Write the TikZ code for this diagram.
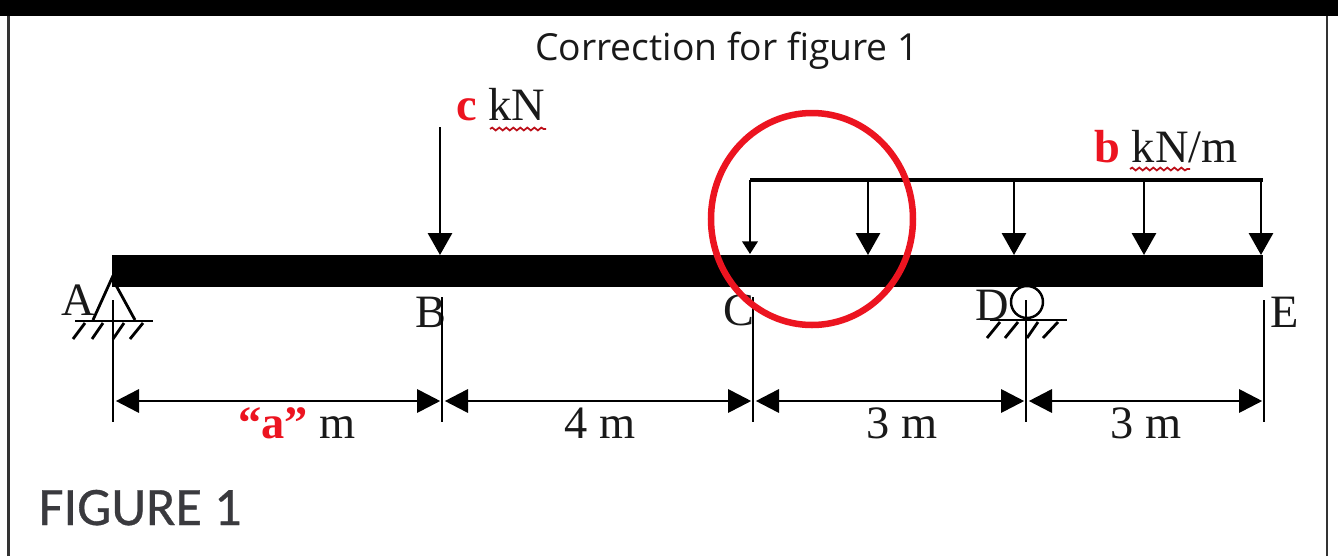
\documentclass[tikz,border=0pt]{standalone}
\usepackage{fontspec}
\setmainfont{Liberation Serif}
\newfontfamily\slidefont{Open Sans}
\newfontfamily\figfont[AutoFakeBold=0.6]{Carlito}
\usetikzlibrary{arrows.meta,decorations.pathmorphing}
\definecolor{markred}{RGB}{236,20,32}
\definecolor{figgray}{RGB}{58,58,62}
\tikzset{
  beamlabel/.style={anchor=base,inner sep=0pt,text=black!90,font=\fontsize{13.2}{13.2}\selectfont},
  dimline/.style={{Triangle[length=6.6pt,width=6.6pt]}-{Triangle[length=6.6pt,width=6.6pt]},line width=.8pt,shorten >=.5pt,shorten <=.8pt},
  extline/.style={line width=.8pt},
  loadarrow/.style={-{Triangle[length=6.2pt,width=6.8pt]},line width=.75pt},
  groundline/.style={line width=.8pt},
  squiggle/.style={draw=markred!80!black,line width=.5pt,decorate,decoration={snake,amplitude=.4pt,segment length=2pt}}
}
\begin{document}
\begin{tikzpicture}
  \useasboundingbox (0,0) rectangle (13.38,5.56);
  \fill[white] (0,0) rectangle (13.38,5.56);
  \fill[black] (0,5.40) rectangle (13.38,5.56);
  \draw[line width=.6pt,black!80] (0.085,0) -- (0.085,5.40);
  \draw[line width=.6pt,black!80] (13.27,0) -- (13.27,5.40);

  \node[anchor=base,inner sep=0pt,font=\slidefont\fontsize{10.6}{10.6}\selectfont,text=black!90] (title) at (7.27,4.96) {Correction for figure 1};
  \node[anchor=base west,inner sep=0pt,font=\figfont\bfseries\fontsize{15.4}{15.4}\selectfont,text=figgray] (figlabel) at (0.38,0.31) {FIGURE 1};

  % beam
  \fill[black] (1.12,2.69) rectangle (12.63,3.01);

  % support at A
  \coordinate (apexA) at (1.12,2.78);
  \coordinate (baseAl) at (0.93,2.36);
  \coordinate (baseAr) at (1.35,2.36);
  \draw[groundline] (baseAl) -- (apexA) -- (baseAr);
  \draw[groundline] (0.75,2.35) -- (1.53,2.35);
  \draw[groundline] (0.73,2.17) -- ++(0.12,0.16);
  \draw[groundline] (0.92,2.17) -- ++(0.11,0.16);
  \draw[groundline] (1.13,2.17) -- ++(0.11,0.16);
  \draw[groundline] (1.30,2.17) -- ++(0.13,0.16);

  % support at D
  \node[draw,circle,line width=.7pt,minimum size=.32cm,inner sep=0pt] (rollerD) at (10.27,2.54) {};
  \draw[groundline] (9.90,2.36) -- (10.67,2.36);
  \draw[groundline] (9.87,2.18) -- ++(0.13,0.16);
  \draw[groundline] (10.05,2.18) -- ++(0.13,0.16);
  \draw[groundline] (10.27,2.18) -- ++(0.11,0.16);
  \draw[groundline] (10.43,2.18) -- ++(0.15,0.16);

  % letters
  \node[beamlabel] (labA) at (0.78,2.41) {A};
  \node[beamlabel] (labB) at (4.31,2.29) {B};
  \node[beamlabel] (labC) at (7.39,2.31) {C};
  \node[beamlabel] (labD) at (9.92,2.36) {D};
  \node[beamlabel] (labE) at (12.85,2.29) {E};

  % extension lines
  \coordinate (extAt) at (1.13,2.56);  \coordinate (extAb) at (1.13,1.34);
  \coordinate (extBt) at (4.42,2.59);  \coordinate (extBb) at (4.42,1.34);
  \coordinate (extCt) at (7.53,2.59);  \coordinate (extCb) at (7.53,1.34);
  \coordinate (extDt) at (10.26,2.56); \coordinate (extDb) at (10.26,1.34);
  \coordinate (extEt) at (12.64,2.56); \coordinate (extEb) at (12.64,1.34);
  \draw[extline] (extAt) -- (extAb);
  \draw[extline] (extBt) -- (extBb);
  \draw[extline] (extCt) -- (extCb);
  \draw[extline] (extDt) -- (extDb);
  \draw[extline] (extEt) -- (extEb);

  % dimensions
  \coordinate (dimA) at (1.13,1.55);
  \coordinate (dimB) at (4.42,1.55);
  \coordinate (dimC) at (7.53,1.55);
  \coordinate (dimD) at (10.26,1.55);
  \coordinate (dimE) at (12.64,1.55);
  \draw[dimline] (dimA) -- (dimB);
  \draw[dimline] (dimB) -- (dimC);
  \draw[dimline] (dimC) -- (dimD);
  \draw[dimline] (dimD) -- (dimE);
  \node[beamlabel] (lenAB) at (2.97,1.18) {\textcolor{markred}{\textbf{“a”}} m};
  \node[beamlabel] (lenBC) at (6.00,1.18) {4 m};
  \node[beamlabel] (lenCD) at (9.02,1.18) {3 m};
  \node[beamlabel] (lenDE) at (11.46,1.18) {3 m};

  % point load
  \coordinate (loadBt) at (4.40,4.29);
  \coordinate (loadBb) at (4.40,3.01);
  \draw[loadarrow] (loadBt) -- (loadBb);
  \node[beamlabel] (loadc) at (5.01,4.36) {\textcolor{markred}{\textbf{c}} kN};
  \draw[squiggle] (4.90,4.27) -- (5.46,4.27);

  % distributed load
  \coordinate (udlL) at (7.50,3.76);
  \coordinate (udlR) at (12.63,3.76);
  \draw[line width=.95pt] (udlL) -- (udlR);
  \draw[line width=.7pt,-{Triangle[length=3.6pt,width=4.4pt]}] (udlL) -- (7.50,3.02);
  \draw[loadarrow] (8.68,3.76) -- (8.68,3.01);
  \draw[loadarrow] (10.14,3.76) -- (10.14,3.01);
  \draw[loadarrow] (11.44,3.76) -- (11.44,3.01);
  \draw[loadarrow] (12.61,3.76) -- (12.61,3.01);
  \node[beamlabel] (loadb) at (11.66,3.94) {\textcolor{markred}{\textbf{b}} kN/m};
  \draw[squiggle] (11.30,3.87) -- (11.90,3.87);

  % correction mark
  \draw[markred,line width=1.85pt] (8.12,3.37) ellipse (1.01 and 1.06);
\end{tikzpicture}
\end{document}
